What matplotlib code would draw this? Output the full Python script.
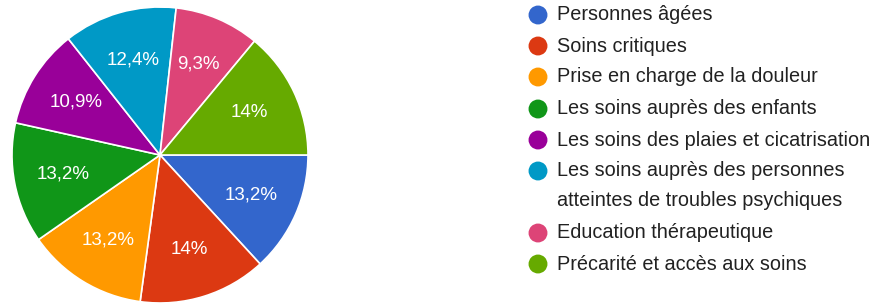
import numpy as np
import matplotlib.pyplot as plt

# slices, clockwise starting at 3 o'clock
categories = ["Personnes âgées", "Soins critiques", "Prise en charge de la douleur",
              "Les soins auprès des enfants", "Les soins des plaies et cicatrisation",
              "Les soins auprès des personnes\natteintes de troubles psychiques",
              "Education thérapeutique", "Précarité et accès aux soins"]
shares = [13.2, 14, 13.2, 13.2, 10.9, 12.4, 9.3, 14]
pct_labels = ["13,2%", "14%", "13,2%", "13,2%", "10,9%", "12,4%", "9,3%", "14%"]
colors = ["#3366CC", "#DC3912", "#FF9900", "#109618", "#990099", "#0099C6", "#DD4477", "#66AA00"]

plt.rcParams['font.family'] = ['Liberation Sans', 'DejaVu Sans']

W, H = 874, 304
fig = plt.figure(figsize=(W / 100, H / 100), dpi=100)

cx, cy, r = 160, 155, 148
pie_ax = fig.add_axes([(cx - r) / W, (H - cy - r) / H, 2 * r / W, 2 * r / H])
pie_ax.pie(shares, colors=colors, startangle=0, counterclock=False,
           wedgeprops=dict(edgecolor="white", linewidth=1.2))
pie_ax.set_xlim(-1, 1)
pie_ax.set_ylim(-1, 1)

# percentage labels
total = sum(shares)
ang = 0.0
for w, lab in zip(shares, pct_labels):
    mid = np.deg2rad(ang - w / total * 360 / 2)
    pie_ax.text(0.67 * np.cos(mid), 0.67 * np.sin(mid), lab, color="white",
                fontsize=13.5, ha="center", va="center")
    ang -= w / total * 360

# legend drawn in pixel coordinates
leg = fig.add_axes([0, 0, 1, 1])
leg.set_xlim(0, W)
leg.set_ylim(H, 0)
leg.axis("off")
rows_y = [15, 46, 77, 109, 140, 171, 233, 264]
leg.scatter([538] * len(rows_y), rows_y, s=185, c=colors, edgecolors="none")
for y, name in zip(rows_y, categories):
    for i, line in enumerate(name.split("\n")):
        leg.text(557, y + i * 30, line, fontsize=14.3, color="#212121",
                 va="center", ha="left")

fig.savefig("out.png", dpi=100)
